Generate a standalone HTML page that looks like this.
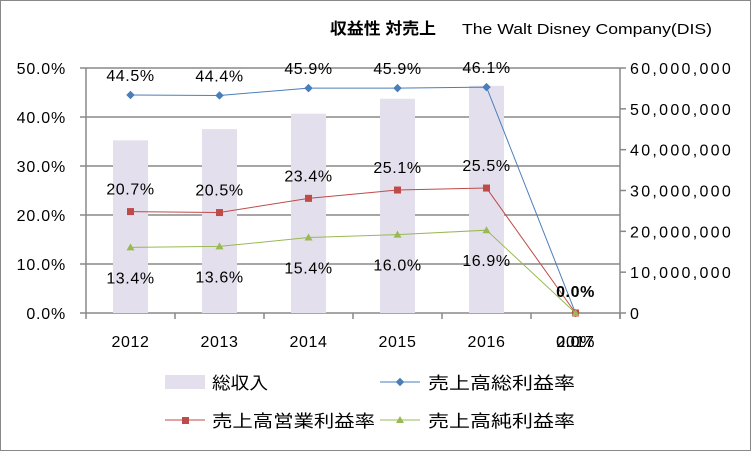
<!DOCTYPE html>
<html><head><meta charset="utf-8"><style>
body{margin:0;background:#fff;}
svg text{font-family:"Liberation Sans","Noto Sans CJK JP",sans-serif;}
</style></head><body>
<svg width="752" height="452" viewBox="0 0 752 452">
<rect x="0.5" y="0.5" width="750" height="450" fill="#fff" stroke="#888"/>
<text x="330" y="34" font-size="16" font-weight="bold" fill="#000" textLength="106" lengthAdjust="spacingAndGlyphs">収益性 対売上</text>
<text x="462" y="34" font-size="15" fill="#000" textLength="250" lengthAdjust="spacingAndGlyphs">The Walt Disney Company(DIS)</text>
<g id="grid"></g><g id="bars"></g><g id="axes"></g><g id="lines"></g><g id="labels"></g>
<g>
<rect x="165" y="375" width="40" height="14" fill="#e4dfec"/>
<text x="212" y="389" font-size="17" textLength="56" lengthAdjust="spacingAndGlyphs">総収入</text>
<line x1="380" y1="382" x2="420" y2="382" stroke="#4a7ebb"/>
<rect x="397" y="379" width="6" height="6" fill="#4a7ebb" transform="rotate(45 400 382)"/>
<text x="428" y="389" font-size="17" textLength="147" lengthAdjust="spacingAndGlyphs">売上高総利益率</text>
<line x1="165" y1="420" x2="205" y2="420" stroke="#be4b48"/>
<rect x="182" y="417" width="7" height="7" fill="#be4b48"/>
<text x="212" y="427" font-size="17" textLength="163" lengthAdjust="spacingAndGlyphs">売上高営業利益率</text>
<line x1="380" y1="420" x2="420" y2="420" stroke="#98b954"/>
<polygon points="400,416 404,423 396,423" fill="#98b954"/>
<text x="428" y="427" font-size="17" textLength="147" lengthAdjust="spacingAndGlyphs">売上高純利益率</text>
</g>
</svg>
<script>
const categories=["2012","2013","2014","2015","2016","2017"];
const revenue=[42278000,45041000,48813000,52465000,55632000,0];
const grossMargin=[44.5,44.4,45.9,45.9,46.1,0];
const operatingMargin=[20.7,20.5,23.4,25.1,25.5,0];
const netMargin=[13.4,13.6,15.4,16.0,16.9,0];
const leftTicks=["0.0%","10.0%","20.0%","30.0%","40.0%","50.0%"];
const rightTicks=["0","10,000,000","20,000,000","30,000,000","40,000,000","50,000,000","60,000,000"];
const NS="http://www.w3.org/2000/svg";
const L=86,R=620,T=68,B=313;
const cw=(R-L)/categories.length;
const xC=i=>L+cw*(i+0.5);
const yP=v=>B-(v/50)*(B-T);
const yR=v=>B-(v/60000000)*(B-T);
function mk(p,tag,a){const e=document.createElementNS(NS,tag);for(const k in a)e.setAttribute(k,a[k]);document.getElementById(p).appendChild(e);return e;}
leftTicks.forEach((t,i)=>{const y=yP(i*10);
 const g=mk('grid','line',{x1:L,x2:R,y1:y,y2:y,stroke:'#888','stroke-width':1.5});
 
 
 mk('axes','line',{x1:L-6,x2:L,y1:y,y2:y,stroke:'#888','stroke-width':1.5});
 const tx=mk('axes','text',{x:L-20,y:y+6,'font-size':16,'text-anchor':'end','letter-spacing':0.8});tx.textContent=t;
 
 
});
rightTicks.forEach((t,i)=>{const y=yR(i*10000000);
 mk('axes','line',{x1:R,x2:R+6,y1:y,y2:y,stroke:'#888','stroke-width':1.5});
 const tx=mk('axes','text',{x:R+10,y:y+6,'font-size':16,'letter-spacing':2.3});tx.textContent=t;
 
 
});
mk('axes','line',{x1:L,x2:L,y1:T,y2:B+6,stroke:'#888','stroke-width':1.5});
mk('axes','line',{x1:R,x2:R,y1:T,y2:B+6,stroke:'#888','stroke-width':1.5});
categories.forEach((c,i)=>{
 mk('axes','line',{x1:L+cw*(i+1),x2:L+cw*(i+1),y1:B,y2:B+6,stroke:'#888','stroke-width':1.5});
 const tx=mk('axes','text',{x:xC(i),y:B+34,'font-size':16,'text-anchor':'middle','letter-spacing':0.6});tx.textContent=c;
 
 
 const b=mk('bars','rect',{x:xC(i)-17.5,width:35,y:yR(revenue[i]),height:B-yR(revenue[i]),fill:'#e4dfec'});
 
 
});
function series(vals,color,name,marker,dy){
 const p=mk('lines','polyline',{points:vals.map((v,i)=>xC(i)+','+yP(v)).join(' '),fill:'none',stroke:color,'stroke-width':1});
 
 
 vals.forEach((v,i)=>{const x=xC(i),y=yP(v);let m;
  if(marker==='d')m=mk('lines','rect',{x:x-3,y:y-3,width:6,height:6,fill:color,transform:`rotate(45 ${x} ${y})`});
  else if(marker==='s')m=mk('lines','rect',{x:x-3.5,y:y-3.5,width:7,height:7,fill:color});
  else m=mk('lines','polygon',{points:`${x},${y-4} ${x+4},${y+3} ${x-4},${y+3}`,fill:color});
  
  
  const last=i===vals.length-1;
  const t=mk('labels','text',{x:x,y:last?(name==='gross'?y-16:y+34):y+dy,'font-size':16,'text-anchor':'middle','letter-spacing':0.6,'font-weight':last&&name==='gross'?'bold':'normal'});
  t.textContent=v.toFixed(1)+'%';
  
  
 });
}
series(grossMargin,'#4a7ebb','gross','d',-14);
series(operatingMargin,'#be4b48','operating','s',-17);
series(netMargin,'#98b954','net','t',36);
</script>
</body></html>
